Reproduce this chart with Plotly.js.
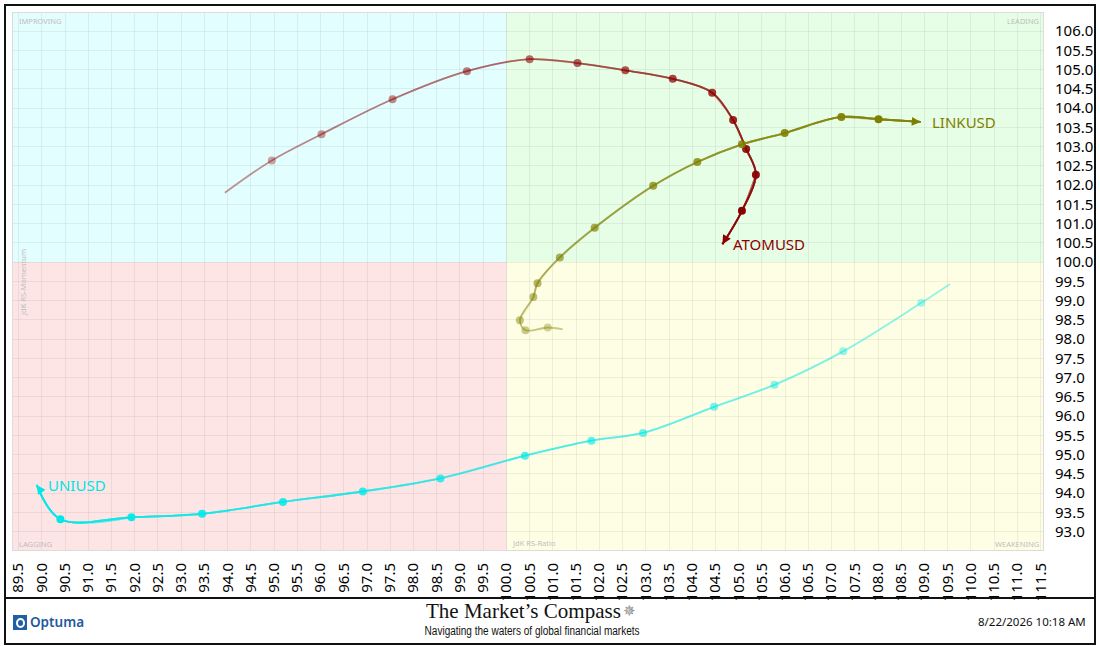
<!DOCTYPE html>
<html>
<head>
<meta charset="utf-8">
<script src="https://cdn.plot.ly/plotly-3.0.1.min.js"></script>
<style>
  body { margin: 0; background: #fff; }
  #rrg { width: 1100px; height: 646px; }
</style>
</head>
<body>
<div id="rrg"></div>
<script>
// tails, oldest point first, last point is the arrow head
const atomX = [93.94, 94.95, 96.02, 97.55, 99.15, 100.50, 101.53, 102.56, 103.58, 104.43, 104.88, 105.16, 105.37, 105.07, 104.65];
const atomY = [101.80, 102.64, 103.32, 104.23, 104.96, 105.27, 105.17, 104.98, 104.76, 104.40, 103.69, 102.94, 102.27, 101.33, 100.46];

const linkX = [101.21, 100.89, 100.41, 100.29, 100.58, 100.67, 101.15, 101.90, 103.16, 104.11, 105.07, 105.99, 107.21, 108.01, 108.92];
const linkY = [98.25, 98.30, 98.23, 98.49, 99.09, 99.45, 100.12, 100.89, 101.98, 102.60, 103.06, 103.35, 103.77, 103.71, 103.64];

const uniX = [109.55, 108.93, 107.25, 105.77, 104.47, 102.94, 101.83, 100.40, 98.58, 96.91, 95.19, 93.45, 91.93, 90.40, 89.89];
const uniY = [99.43, 98.94, 97.68, 96.81, 96.24, 95.56, 95.36, 94.97, 94.38, 94.04, 93.77, 93.46, 93.37, 93.32, 94.21];

const quadrantNames = ["IMPROVING", "LEADING", "LAGGING", "WEAKENING"];
const majorGrid = [90, 95, 105, 110];

const xRange = [89.38, 111.55];
const yRange = [92.52, 106.47];

const subtitle = "Navigating the waters of global financial markets";

// page geometry
const W = 1100, H = 646;
const M = {l: 13, r: 57, t: 13, b: 96};
const PW = W - M.l - M.r, PH = H - M.t - M.b;
const px = v => (v - M.l) / PW;
const py = v => (H - M.b - v) / PH;
const xScale = PW / (xRange[1] - xRange[0]);
const yScale = PH / (yRange[1] - yRange[0]);

const data = [];
const annotations = [];

function rgba(c, a) { return "rgba(" + c.join(",") + "," + a.toFixed(3) + ")"; }

function addTail(name, xs, ys, rgb, labelColor) {
    const n = xs.length;
    const last = n - 3;
    // stacked spline pieces so the tail fades toward its start
    let T = 1;
    for (let s = 0; s <= last; s++) {
        const o = 0.42 + (0.97 - 0.42) * s / last;
        const a = 1 - (1 - o) / T;
        T = 1 - o;
        data.push({
            type: "scatter", mode: "lines",
            x: xs.slice(s), y: ys.slice(s),
            line: {color: rgba(rgb, a), width: 1.8, shape: "spline"},
            hoverinfo: "skip", showlegend: false
        });
    }
    const op = xs.map((v, i) => (i === 0 || i === n - 1) ? 0 : 0.35 + 0.65 * (i - 1) / (n - 3));
    data.push({
        type: "scatter", mode: "markers", name: name,
        x: xs, y: ys,
        marker: {color: rgba(rgb, 1), size: 8, opacity: op},
        showlegend: false
    });
    // arrow head
    const dx = (xs[n - 1] - xs[n - 2]) * xScale;
    const dy = -(ys[n - 1] - ys[n - 2]) * yScale;
    const len = Math.hypot(dx, dy);
    annotations.push({
        x: xs[n - 1], y: ys[n - 1], xref: "x", yref: "y",
        ax: -dx / len * 10, ay: -dy / len * 10,
        showarrow: true, arrowhead: 2, arrowsize: 1, arrowwidth: 1.8,
        arrowcolor: rgba(rgb, 1), text: ""
    });
    annotations.push({
        x: xs[n - 1], y: ys[n - 1], xref: "x", yref: "y",
        text: name, showarrow: false, xanchor: "left", yanchor: "middle", xshift: 9,
        font: {family: "Noto Sans", size: 15, color: labelColor}
    });
}

addTail("ATOMUSD", atomX, atomY, [139, 0, 0], "#8b0000");
addTail("LINKUSD", linkX, linkY, [128, 128, 0], "#808000");
addTail("UNIUSD", uniX, uniY, [0, 232, 232], "#00e3e3");

const shapes = [
    {type: "rect", xref: "x", yref: "y", x0: 80, x1: 100, y0: 100, y1: 120, fillcolor: "#e3feff", line: {width: 0}, layer: "below"},
    {type: "rect", xref: "x", yref: "y", x0: 100, x1: 120, y0: 100, y1: 120, fillcolor: "#e6fde6", line: {width: 0}, layer: "below"},
    {type: "rect", xref: "x", yref: "y", x0: 80, x1: 100, y0: 80, y1: 100, fillcolor: "#fde5e5", line: {width: 0}, layer: "below"},
    {type: "rect", xref: "x", yref: "y", x0: 100, x1: 120, y0: 80, y1: 100, fillcolor: "#fefee4", line: {width: 0}, layer: "below"}
];
for (const g of majorGrid) {
    shapes.push({type: "line", xref: "x", yref: "paper", x0: g, x1: g, y0: 0, y1: 1, line: {color: "rgba(0,0,0,0.09)", width: 1.5}, layer: "below"});
    if (g > yRange[0] && g < yRange[1]) {
        shapes.push({type: "line", xref: "paper", yref: "y", x0: 0, x1: 1, y0: g, y1: g, line: {color: "rgba(0,0,0,0.09)", width: 1.5}, layer: "below"});
    }
}
shapes.push({type: "line", xref: "x", yref: "paper", x0: 100, x1: 100, y0: 0, y1: 1, line: {color: "#cfcfcf", width: 2}, layer: "below"});
shapes.push({type: "line", xref: "paper", yref: "y", x0: 0, x1: 1, y0: 100, y1: 100, line: {color: "#cfcfcf", width: 2}, layer: "below"});

// frame and footer
shapes.push({type: "rect", xref: "paper", yref: "paper", x0: px(5), x1: px(1095), y0: py(5), y1: py(644), line: {color: "#111", width: 2}});
shapes.push({type: "line", xref: "paper", yref: "paper", x0: px(5), x1: px(1095), y0: py(598), y1: py(598), line: {color: "#111", width: 2}});
shapes.push({type: "rect", xref: "paper", yref: "paper", x0: px(13), x1: px(27), y0: py(630), y1: py(615), fillcolor: "#1f5fa6", line: {width: 0}});
shapes.push({type: "circle", xref: "paper", yref: "paper", x0: px(16), x1: px(25), y0: py(628), y1: py(618), fillcolor: "#ffffff", line: {width: 0}});
shapes.push({type: "circle", xref: "paper", yref: "paper", x0: px(18), x1: px(23), y0: py(626), y1: py(620), fillcolor: "#1f5fa6", line: {width: 0}});

const qFont = {family: "Noto Sans", size: 7.5, color: "#bdbdbd"};
annotations.push(
    {xref: "paper", yref: "paper", x: px(17), y: py(21), text: quadrantNames[0], showarrow: false, xanchor: "left", yanchor: "middle", font: qFont},
    {xref: "paper", yref: "paper", x: px(1041), y: py(21), text: quadrantNames[1], showarrow: false, xanchor: "right", yanchor: "middle", font: qFont},
    {xref: "paper", yref: "paper", x: px(17), y: py(544), text: quadrantNames[2], showarrow: false, xanchor: "left", yanchor: "middle", font: qFont},
    {xref: "paper", yref: "paper", x: px(1041), y: py(544), text: quadrantNames[3], showarrow: false, xanchor: "right", yanchor: "middle", font: qFont},
    {xref: "paper", yref: "paper", x: px(510), y: py(543), text: "JdK RS-Ratio", showarrow: false, xanchor: "left", yanchor: "middle", font: qFont},
    {xref: "paper", yref: "paper", x: px(23), y: py(283), text: "JdK RS-Momentum", textangle: -90, showarrow: false, xanchor: "center", yanchor: "middle", font: qFont},
    {xref: "paper", yref: "paper", x: px(28), y: py(622), text: "Optuma", showarrow: false, xanchor: "left", yanchor: "middle",
     font: {family: "Noto Sans", size: 13.5, color: "#1f5a9e", weight: 600}},
    {xref: "paper", yref: "paper", x: px(424), y: py(611), text: "The Market\u2019s Compass", showarrow: false, xanchor: "left", yanchor: "middle",
     font: {family: "Liberation Serif", size: 21, color: "#111"}},
    {xref: "paper", yref: "paper", x: px(629), y: py(611), text: "\u2735", showarrow: false, xanchor: "center", yanchor: "middle",
     font: {family: "DejaVu Sans", size: 15, color: "#8a8a8a"}},
    {xref: "paper", yref: "paper", x: px(531.5), y: py(631), text: subtitle, showarrow: false, xanchor: "center", yanchor: "middle",
     font: {family: "Liberation Sans", size: 12.5, color: "#111"}},
    {xref: "paper", yref: "paper", x: px(1088), y: py(621), text: "8/22/2026 10:18 AM", showarrow: false, xanchor: "right", yanchor: "middle",
     font: {family: "Noto Sans", size: 11.5, color: "#111"}}
);

const layout = {
    width: W, height: H,
    margin: M,
    paper_bgcolor: "#ffffff",
    plot_bgcolor: "#ffffff",
    showlegend: false,
    xaxis: {
        range: xRange, tickmode: "linear", tick0: 89.5, dtick: 0.5, tickformat: ".1f",
        tickangle: -90, ticks: "", ticklabelstandoff: 6,
        tickfont: {family: "Noto Sans", size: 15, color: "#000"},
        showgrid: true, gridcolor: "rgba(0,0,0,0.06)", gridwidth: 1,
        zeroline: false, showline: true, linecolor: "#dcdcdc", mirror: true, fixedrange: true
    },
    yaxis: {
        range: yRange, side: "right", tickmode: "linear", tick0: 93, dtick: 0.5, tickformat: ".1f",
        ticks: "", ticklabelstandoff: 8,
        tickfont: {family: "Noto Sans", size: 15, color: "#000"},
        showgrid: true, gridcolor: "rgba(0,0,0,0.06)", gridwidth: 1,
        zeroline: false, showline: true, linecolor: "#dcdcdc", mirror: true, fixedrange: true
    },
    shapes: shapes,
    annotations: annotations
};

Plotly.newPlot("rrg", data, layout, {displayModeBar: false, staticPlot: true}).then(gd => {
    // the subtitle is set in a narrow face in the original: squeeze it to that width
    gd.querySelectorAll(".annotation-text").forEach(t => {
        if (t.textContent === subtitle) {
            t.setAttribute("textLength", "215");
            t.setAttribute("lengthAdjust", "spacingAndGlyphs");
        }
    });
});
</script>
</body>
</html>
